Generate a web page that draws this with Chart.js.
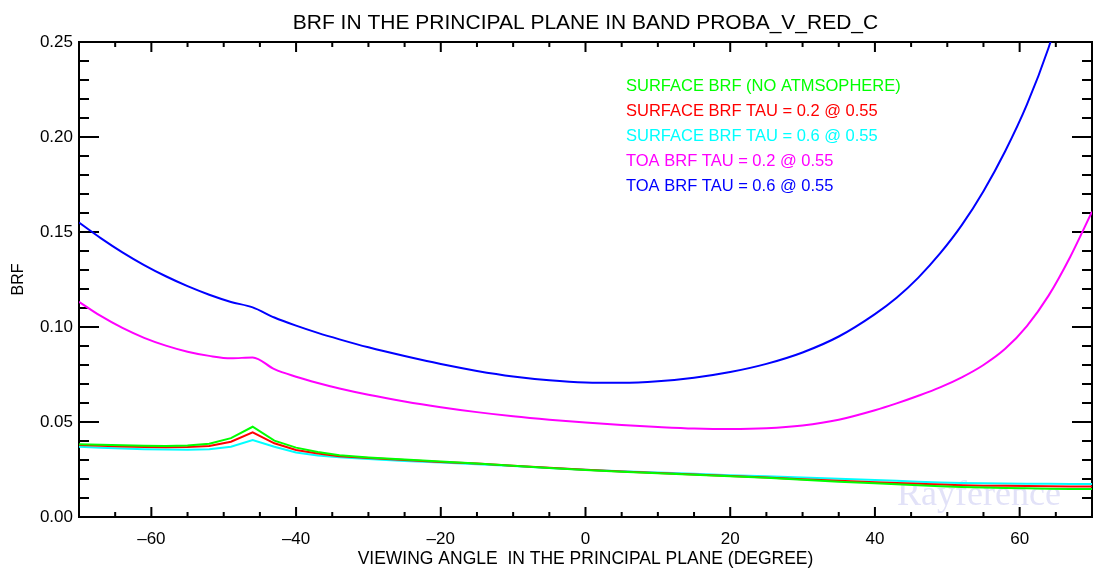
<!doctype html>
<meta charset="utf-8">
<style>
    html, body { margin: 0; padding: 0; background: #fff; }
    #wrap { width: 1093px; height: 572px; }
</style>
<div id="wrap"><canvas id="chart"></canvas></div>
<script src="https://cdn.jsdelivr.net/npm/chart.js@4.4.8/dist/chart.umd.min.js"></script>
<script>
    // viewing angle (degree) and the five BRF curves
    const angles = [-70, -67, -64, -61, -58, -55, -52, -49, -46, -43, -40, -37, -34,
        -30, -25, -20, -15, -10, -5, 0, 5, 10, 15, 20, 25, 30, 35, 40,
        43, 46, 49, 52, 55, 58, 61, 64, 67, 70];
    const surfaceNoAtm = [0.0383, 0.0380, 0.0377, 0.0375, 0.0374, 0.0376, 0.0386, 0.0415, 0.0475, 0.0402, 0.0365, 0.0342, 0.0325,
        0.0313, 0.0302, 0.0292, 0.0282, 0.0270, 0.0258, 0.0248, 0.0238, 0.0230, 0.0222, 0.0214, 0.0206, 0.0196, 0.0186, 0.0177,
        0.0172, 0.0167, 0.0162, 0.0158, 0.0155, 0.0153, 0.0151, 0.0149, 0.0148, 0.0147];
    const surfaceTau02 = [0.0379, 0.0375, 0.0371, 0.0368, 0.0367, 0.0368, 0.0374, 0.0396, 0.0446, 0.0388, 0.0353, 0.0334, 0.0320,
        0.0310, 0.0300, 0.0290, 0.0281, 0.0270, 0.0259, 0.0249, 0.0240, 0.0232, 0.0224, 0.0216, 0.0208, 0.0199, 0.0191, 0.0183,
        0.0179, 0.0175, 0.0171, 0.0167, 0.0165, 0.0164, 0.0163, 0.0162, 0.0161, 0.0160];
    const surfaceTau06 = [0.0370, 0.0365, 0.0360, 0.0357, 0.0355, 0.0354, 0.0357, 0.0370, 0.0405, 0.0370, 0.0339, 0.0324, 0.0314,
        0.0305, 0.0295, 0.0287, 0.0278, 0.0268, 0.0258, 0.0249, 0.0241, 0.0234, 0.0227, 0.0220, 0.0215, 0.0208, 0.0201, 0.0195,
        0.0191, 0.0186, 0.0182, 0.0179, 0.0177, 0.0176, 0.0175, 0.0175, 0.0174, 0.0174];
    const toaTau02 = [0.1133, 0.1058, 0.0995, 0.0943, 0.0902, 0.0870, 0.0848, 0.0835, 0.0840, 0.0778, 0.0738, 0.0705, 0.0676,
        0.0643, 0.0608, 0.0578, 0.0552, 0.0530, 0.0512, 0.0497, 0.0484, 0.0474, 0.0466, 0.0463, 0.0467, 0.0482, 0.0512, 0.0562,
        0.0598, 0.0638, 0.0682, 0.0735, 0.0800, 0.0885, 0.1005, 0.1165, 0.1370, 0.1607];
    const toaTau06 = [0.1550, 0.1468, 0.1393, 0.1326, 0.1267, 0.1215, 0.1170, 0.1132, 0.1103, 0.1050, 0.1007, 0.0969, 0.0935,
        0.0893, 0.0847, 0.0805, 0.0769, 0.0740, 0.0720, 0.0708, 0.0706, 0.0714, 0.0733, 0.0763, 0.0806, 0.0866, 0.0950, 0.1068,
        0.1154, 0.1260, 0.1387, 0.1536, 0.1715, 0.1925, 0.2170, 0.2470, 0.2840, 0.3300];

    const seriesLabels = ["SURFACE BRF (NO ATMSOPHERE)", "SURFACE BRF TAU = 0.2 @ 0.55",
        "SURFACE BRF TAU = 0.6 @ 0.55", "TOA BRF TAU = 0.2 @ 0.55", "TOA BRF TAU = 0.6 @ 0.55"];
    const seriesColors = ["#00ff00", "#ff0000", "#00ffff", "#ff00ff", "#0000ff"];
    const seriesValues = [surfaceNoAtm, surfaceTau02, surfaceTau06, toaTau02, toaTau06];

    const xTicks = [-60, -40, -20, 0, 20, 40, 60];
    const xMinorTicks = [-65, -55, -50, -45, -35, -30, -25, -15, -10, -5, 5, 10, 15, 25, 30, 35, 45, 50, 55, 65];
    const yTicks = [0, 0.05, 0.10, 0.15, 0.20, 0.25];
    const yMinorStep = 0.01;

    const FONT = "'Liberation Sans', Arial, Helvetica, sans-serif";
    Chart.defaults.font.family = FONT;
    Chart.defaults.color = "#000";

    // IDL style frame: box with inward ticks on all four sides
    const frame = {
        id: "frame",
        beforeDatasetsDraw(chart) {
            const {ctx, chartArea: a, scales: {x, y}} = chart;
            ctx.save();

            // watermark sits under the curves
            ctx.font = "36px 'Liberation Serif', 'Times New Roman', serif";
            ctx.fillStyle = "#e2e2f8";
            ctx.textBaseline = "alphabetic";
            ctx.fillText("Rayference", 897, 505);

            ctx.strokeStyle = "#000";
            ctx.lineWidth = 2;
            ctx.strokeRect(a.left, a.top, a.right - a.left, a.bottom - a.top);

            ctx.beginPath();
            const xt = (v, len) => {
                const px = x.getPixelForValue(v);
                ctx.moveTo(px, a.bottom); ctx.lineTo(px, a.bottom - len);
                ctx.moveTo(px, a.top); ctx.lineTo(px, a.top + len);
            };
            xTicks.forEach(v => xt(v, 10));
            xMinorTicks.forEach(v => xt(v, 5));

            for (let i = 1; i < 25; i++) {
                const v = i * yMinorStep;
                const len = i % 5 === 0 ? 20 : 10;
                const py = y.getPixelForValue(v);
                ctx.moveTo(a.left, py); ctx.lineTo(a.left + len, py);
                ctx.moveTo(a.right, py); ctx.lineTo(a.right - len, py);
            }
            ctx.stroke();
            ctx.restore();
        },
        afterDraw(chart) {
            // text legend, one coloured line per series
            const {ctx, chartArea: a} = chart;
            ctx.save();
            ctx.font = "16.5px " + FONT;
            ctx.textBaseline = "middle";
            chart.data.datasets.forEach((ds, i) => {
                ctx.fillStyle = ds.borderColor;
                ctx.fillText(ds.label, a.left + 547, a.top + 44 + i * 25);
            });
            ctx.restore();
        }
    };

    new Chart(document.getElementById("chart"), {
        type: "line",
        data: {
            datasets: seriesValues.map((vals, i) => ({
                label: seriesLabels[i],
                data: angles.map((a, j) => ({x: a, y: vals[j]})),
                borderColor: seriesColors[i],
                borderWidth: 2,
                pointRadius: 0,
                cubicInterpolationMode: i >= 3 ? "monotone" : "default",
                tension: 0
            }))
        },
        options: {
            responsive: true,
            maintainAspectRatio: false,
            animation: false,
            layout: {padding: {right: 1}},
            plugins: {
                legend: {display: false},
                tooltip: {enabled: false},
                title: {
                    display: true,
                    fullSize: false,
                    text: "BRF IN THE PRINCIPAL PLANE IN BAND PROBA_V_RED_C",
                    font: {size: 21, weight: "normal"},
                    color: "#000",
                    padding: {top: 11, bottom: 5.8}
                }
            },
            scales: {
                x: {
                    type: "linear",
                    min: -70,
                    max: 70,
                    afterBuildTicks: s => { s.ticks = xTicks.map(v => ({value: v})); },
                    afterFit: s => { s.height = 55; },
                    grid: {display: false, drawTicks: false},
                    border: {display: false},
                    ticks: {
                        padding: 12,
                        font: {size: 17},
                        maxRotation: 0,
                        callback: v => v < 0 ? "\u2013" + Math.abs(v) : String(v)
                    },
                    title: {
                        display: true,
                        text: "VIEWING ANGLE  IN THE PRINCIPAL PLANE (DEGREE)",
                        font: {size: 17.5},
                        padding: {top: 0, bottom: 2}
                    }
                },
                y: {
                    min: 0,
                    max: 0.25,
                    afterBuildTicks: s => { s.ticks = yTicks.map(v => ({value: v})); },
                    afterFit: s => { s.width = 79; },
                    grid: {display: false, drawTicks: false},
                    border: {display: false},
                    ticks: {
                        padding: 6,
                        font: {size: 17},
                        callback: v => v.toFixed(2)
                    },
                    title: {
                        display: true,
                        text: "BRF",
                        font: {size: 16},
                        padding: {top: 9, bottom: 0}
                    }
                }
            }
        },
        plugins: [frame]
    });
</script>
